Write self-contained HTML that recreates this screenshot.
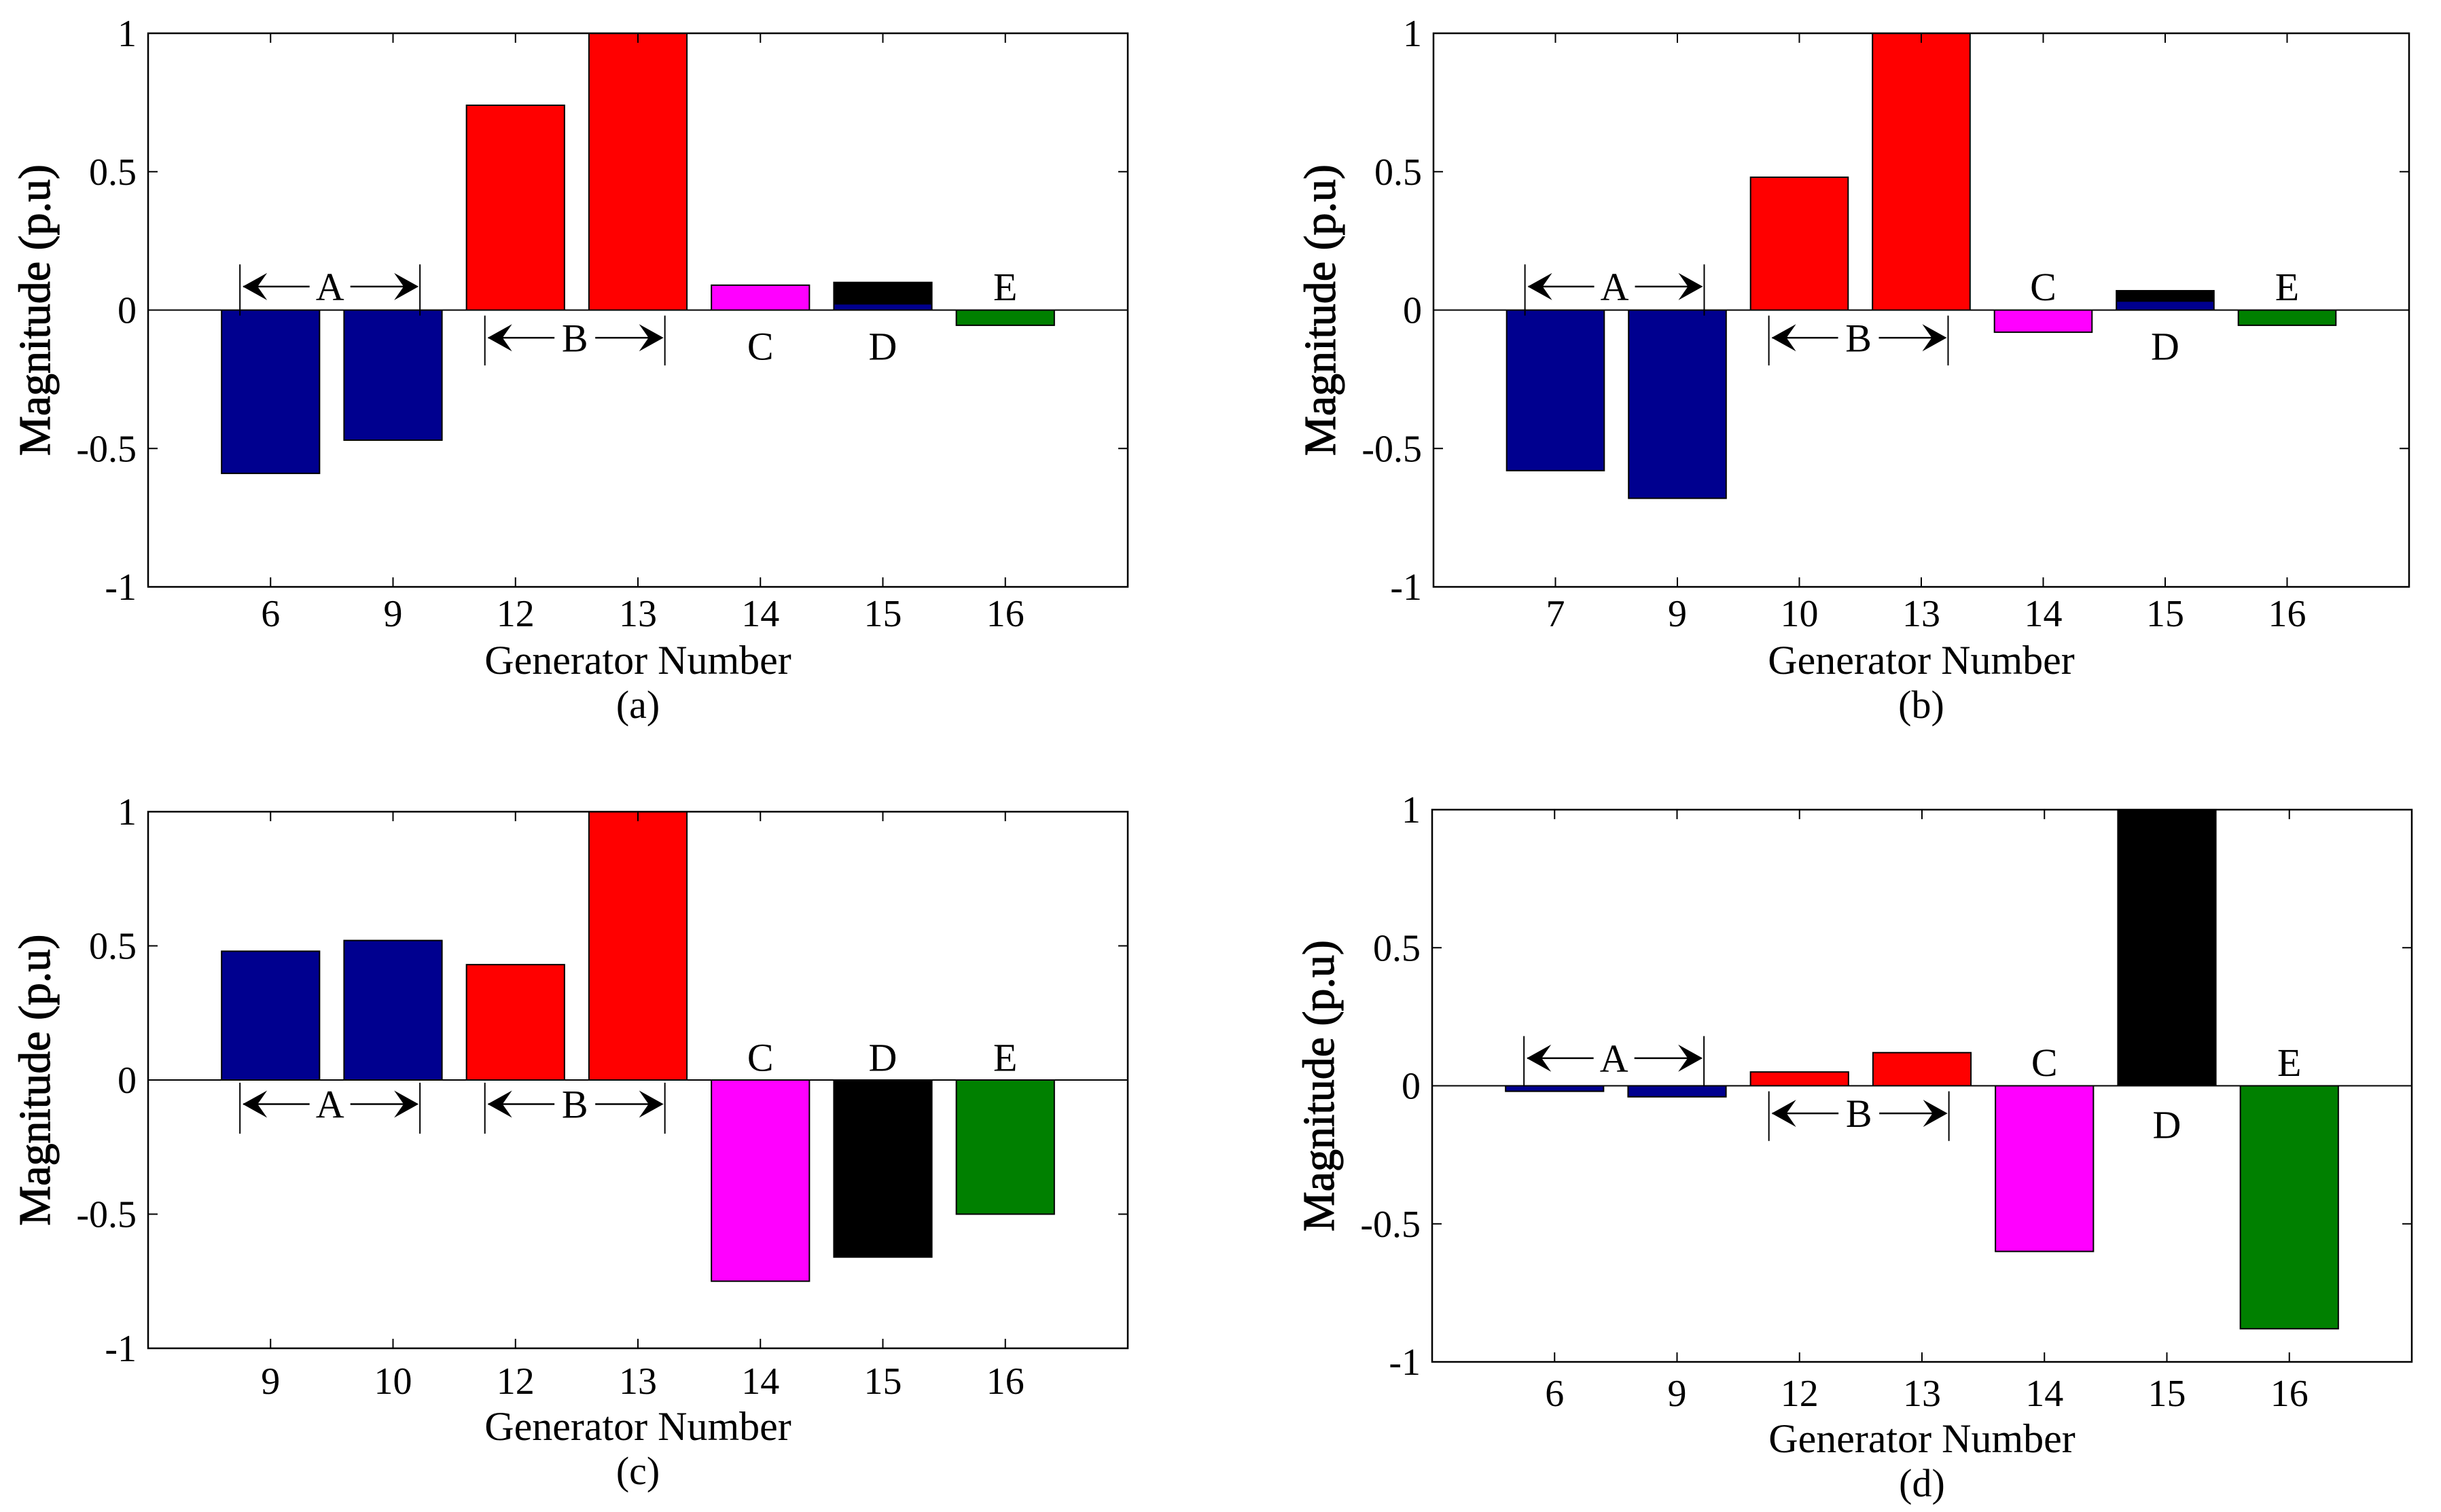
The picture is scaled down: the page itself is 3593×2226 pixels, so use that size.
<!DOCTYPE html>
<html><head><meta charset="utf-8">
<style>
html,body{margin:0;padding:0;background:#fff;}
svg{display:block;}
text{font-family:"Liberation Serif",serif;fill:#000;}
</style></head>
<body>
<svg id="fig" width="3593" height="2226" viewBox="0 0 3593 2226" xmlns="http://www.w3.org/2000/svg"></svg>
<script>
// ---- data ----
const catsA = ["6","9","12","13","14","15","16"];
const valsA = [-0.59,-0.47,0.74,1.0,0.09,0.10,-0.055];
const catsB = ["7","9","10","13","14","15","16"];
const valsB = [-0.58,-0.68,0.48,1.0,-0.08,0.07,-0.055];
const catsC = ["9","10","12","13","14","15","16"];
const valsC = [0.48,0.52,0.43,1.0,-0.75,-0.66,-0.50];
const catsD = ["6","9","12","13","14","15","16"];
const valsD = [-0.02,-0.04,0.05,0.12,-0.60,1.0,-0.88];
const subA = [0,0,0,0,0,0.02,0];
const subB = [0,0,0,0,0,0.03,0];
const yTicks = [-1,-0.5,0,0.5,1];
const yTickLabels = ["-1","-0.5","0","0.5","1"];
const barColors = ["#00008f","#00008f","#ff0000","#ff0000","#ff00ff","#000000","#008000"];
const panelLetters = ["(a)","(b)","(c)","(d)"];

const NS="http://www.w3.org/2000/svg";
const svg=document.getElementById('fig');
function mk(tag,attrs,parent){const e=document.createElementNS(NS,tag);for(const k in attrs)e.setAttribute(k,attrs[k]);(parent||svg).appendChild(e);return e;}

const panels=[
 {cats:catsA,vals:valsA,sub:subA,L:218,R:1660,T:49,B:864,xt:922,xl:992,pl:1057,
  ann:{A:[1,2,0.165,-0.02,0.085],B:[3,4,-0.02,-0.2,-0.1],labels:[["C",5,-0.13],["D",6,-0.13],["E",7,0.085]]}},
 {cats:catsB,vals:valsB,sub:subB,L:2110,R:3546,T:49,B:864,xt:922,xl:992,pl:1057,
  ann:{A:[1,2,0.165,-0.02,0.085],B:[3,4,-0.02,-0.2,-0.1],labels:[["C",5,0.085],["D",6,-0.13],["E",7,0.085]]}},
 {cats:catsC,vals:valsC,sub:null,L:218,R:1660,T:1195,B:1985,xt:2052,xl:2120,pl:2185,
  ann:{A:[1,2,-0.01,-0.2,-0.09],B:[3,4,-0.01,-0.2,-0.09],labels:[["C",5,0.085],["D",6,0.085],["E",7,0.085]]}},
 {cats:catsD,vals:valsD,sub:null,L:2108,R:3550,T:1192,B:2005,xt:2070,xl:2138,pl:2203,
  ann:{A:[1,2,0.18,0,0.1],B:[3,4,-0.02,-0.2,-0.1],labels:[["C",5,0.085],["D",6,-0.14],["E",7,0.085]]}}
];

function arrowHead(g,x,y,dir){
  const d=dir;
  const p=[[x,y],[x-d*36,y-20],[x-d*22,y],[x-d*36,y+20]];
  const e=mk('polygon',{points:p.map(q=>q.join(',')).join(' '),fill:'#000'},g);
  
  
}

panels.forEach((P,pi)=>{
  const g=mk('g',{});
  
  
  const step=(P.R-P.L)/8;
  const xs=i=>P.L+step*i;
  const ys=v=>P.T+(1-v)/2*(P.B-P.T);
  const bw=step*0.8;
  P.vals.forEach((v,i)=>{
    const cx=xs(i+1), y0=ys(0), y1=ys(v);
    const r=mk('rect',{x:cx-bw/2,y:Math.min(y0,y1),width:bw,height:Math.max(1,Math.abs(y1-y0)),fill:barColors[i],stroke:'#000','stroke-width':2},g);
    
    
    if(P.sub && P.sub[i]>0){
      const s=mk('rect',{x:cx-bw/2+1,y:ys(P.sub[i]),width:bw-2,height:ys(0)-ys(P.sub[i]),fill:'#00008f'},g);
      
      
    }
  });
  const z=mk('line',{x1:P.L,x2:P.R,y1:ys(0),y2:ys(0),stroke:'#000','stroke-width':2},g);
  
  
  const box=mk('rect',{x:P.L,y:P.T,width:P.R-P.L,height:P.B-P.T,fill:'none',stroke:'#000','stroke-width':2.5},g);
  
  
  yTicks.forEach((t,k)=>{
    const y=ys(t);
    mk('line',{x1:P.L,x2:P.L+14,y1:y,y2:y,stroke:'#000','stroke-width':2},g);
    mk('line',{x1:P.R,x2:P.R-14,y1:y,y2:y,stroke:'#000','stroke-width':2},g);
    const tl=mk('text',{x:P.L-17,y:y+19,'text-anchor':'end','font-size':56},g);
    tl.textContent=yTickLabels[k];
    
    
  });
  P.cats.forEach((c,i)=>{
    const x=xs(i+1);
    mk('line',{x1:x,x2:x,y1:P.B,y2:P.B-14,stroke:'#000','stroke-width':2},g);
    mk('line',{x1:x,x2:x,y1:P.T,y2:P.T+14,stroke:'#000','stroke-width':2},g);
    const tl=mk('text',{x:x,y:P.xt,'text-anchor':'middle','font-size':56},g);
    tl.textContent=c;
    
    
  });
  const xl=mk('text',{x:(P.L+P.R)/2,y:P.xl,'text-anchor':'middle','font-size':60},g);
  xl.textContent='Generator Number';
  
  
  const pl=mk('text',{x:(P.L+P.R)/2,y:P.pl,'text-anchor':'middle','font-size':58},g);
  pl.textContent=panelLetters[pi];
  
  
  const yc=(P.T+P.B)/2, ylx=P.L-145;
  const yl=mk('text',{x:ylx,y:yc,'text-anchor':'middle','font-size':66,transform:`rotate(-90 ${ylx} ${yc})`,stroke:'#000','stroke-width':1.2},g);
  yl.textContent='Magnitude (p.u)';
  
  
  ['A','B'].forEach(name=>{
    const a=P.ann[name];
    const xL=xs(a[0])-step*0.25, xR=xs(a[1])+step*0.22;
    const yT=ys(a[2]), yB=ys(a[3]), yA=ys(a[4]);
    const ag=mk('g',{},g);
    
    
    mk('line',{x1:xL,x2:xL,y1:yT,y2:yB,stroke:'#000','stroke-width':2},ag);
    mk('line',{x1:xR,x2:xR,y1:yT,y2:yB,stroke:'#000','stroke-width':2},ag);
    const mid=(xL+xR)/2;
    mk('line',{x1:xL+5,x2:mid-30,y1:yA,y2:yA,stroke:'#000','stroke-width':2.5},ag);
    mk('line',{x1:mid+30,x2:xR-5,y1:yA,y2:yA,stroke:'#000','stroke-width':2.5},ag);
    arrowHead(ag,xL+4,yA,-1);
    arrowHead(ag,xR-2,yA,1);
    const t=mk('text',{x:mid,y:yA+20,'text-anchor':'middle','font-size':58},ag);
    t.textContent=name;
  });
  P.ann.labels.forEach(l=>{
    const t=mk('text',{x:xs(l[1]),y:ys(l[2])+20,'text-anchor':'middle','font-size':58},g);
    t.textContent=l[0];
    
    
  });
});
</script>
</body></html>
